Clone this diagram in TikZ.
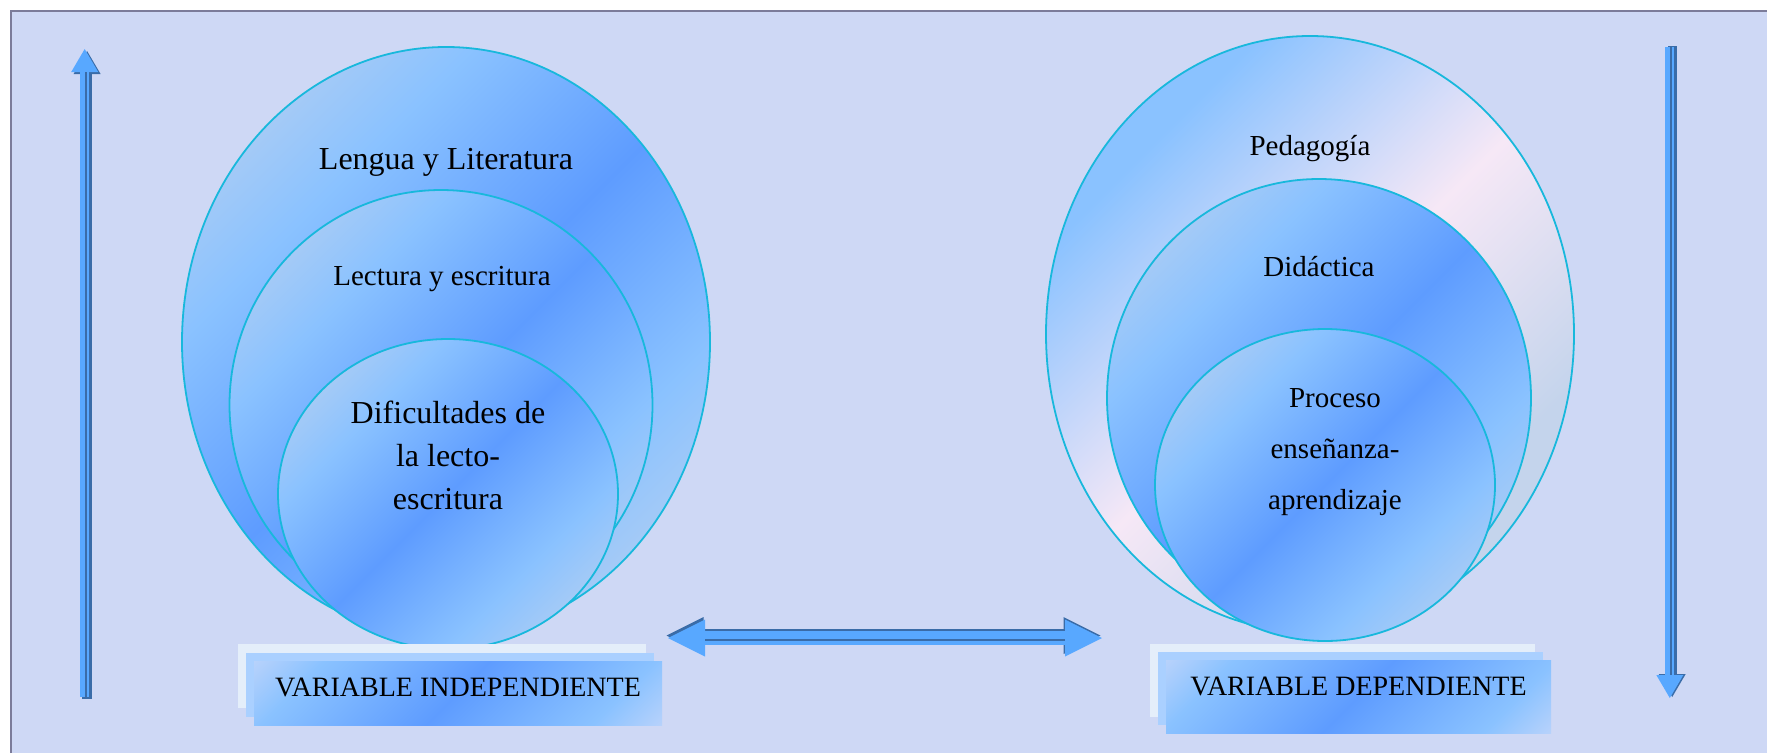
\documentclass[tikz,border=0pt]{standalone}
\usepackage{fontspec}
\setmainfont{Liberation Serif}
\usetikzlibrary{positioning, arrows.meta, shapes.geometric}

\definecolor{paper}{RGB}{206,216,245}
\definecolor{frameline}{RGB}{124,124,154}
\definecolor{rimcyan}{RGB}{24,184,220}
\definecolor{greyblue}{RGB}{196,212,236}
\definecolor{skyblue}{RGB}{138,194,255}
\definecolor{deepblue}{RGB}{94,156,255}
\definecolor{blush}{RGB}{246,232,246}
\definecolor{arrowlight}{RGB}{88,168,255}
\definecolor{arrowdark}{RGB}{58,108,168}
\definecolor{boxblue}{RGB}{170,208,255}
\definecolor{boxpale}{RGB}{228,238,250}

\pgfdeclarehorizontalshading{lensblue}{100bp}{color(0bp)=(greyblue); color(15bp)=(greyblue); color(33bp)=(skyblue); color(50bp)=(deepblue); color(67bp)=(skyblue); color(85bp)=(greyblue); color(100bp)=(greyblue)}
\pgfdeclarehorizontalshading{lenspink}{100bp}{color(0bp)=(skyblue); color(28bp)=(skyblue); color(50bp)=(blush); color(70bp)=(greyblue); color(100bp)=(greyblue)}
\pgfdeclarehorizontalshading{boxband}{100bp}{color(0bp)=(blush); color(25bp)=(skyblue); color(50bp)=(deepblue); color(75bp)=(skyblue); color(100bp)=(blush)}

\tikzset{
    lens/.style={ellipse, draw=rimcyan, line width=1.8pt, inner sep=0pt, shading=lensblue, shading angle=-45},
    lenspale/.style={lens, shading=lenspink, shading angle=-45},
    bigtext/.style={font=\fontsize{32}{43}\selectfont, align=center},
    midtext/.style={font=\fontsize{29}{51}\selectfont, align=center},
    tagbox/.style={rectangle, inner sep=0pt, font=\fontsize{28}{34}\selectfont},
    tagmain/.style={tagbox, shading=boxband, shading angle=-45},
    pointer/.style={line width=9.3pt, -{Triangle[width=27pt, length=23pt, line width=0pt]}},
    link/.style={line width=13.7pt, {Triangle[width=37pt, length=37pt, line width=0pt]}-{Triangle[width=37pt, length=37pt, line width=0pt]}}
}

\begin{document}
\begin{tikzpicture}[x=1pt, y=-1pt]
    \useasboundingbox (0,0) rectangle (1767,753);
    \fill[white] (0,0) rectangle (1767,753);
    \fill[paper] (11,11) rectangle (1767,753);
    \draw[frameline, line width=2pt] (11,753) -- (11,11) -- (1767,11);

    \node[lens, minimum width=528pt, minimum height=590pt] (lenguaLit) at (446,342) {};
    \node[lens, minimum width=423pt, minimum height=430pt] (lectEsc) at (441,405) {};
    \node[lens, minimum width=340pt, minimum height=310pt] (dificult) at (448,494) {};
    \node[bigtext] (tLengua) at (446,162) {Lengua y Literatura};
    \node[midtext] (tLectura) at (442,279) {Lectura y escritura};
    \node[bigtext] (tDificult) at (448,455) {Dificultades de\\la lecto-\\escritura};

    \node[lenspale, minimum width=528pt, minimum height=596pt] (pedagog) at (1310,334) {};
    \node[lens, minimum width=424pt, minimum height=438pt] (didact) at (1319,398) {};
    \node[lens, minimum width=340pt, minimum height=312pt] (procEA) at (1325,485) {};
    \node[midtext] (tPedagog) at (1310,149) {Pedagogía};
    \node[midtext] (tDidact) at (1319,267) {Didáctica};
    \node[midtext] (tProceso) at (1335,452) {Proceso\\enseñanza-\\aprendizaje};

    \coordinate (indC) at (458,693);
    \coordinate (depC) at (1358.5,696.5);
    \node[tagbox, fill=boxpale, minimum width=408pt, minimum height=64pt] (indPale) at ([shift={(-16,-17)}]indC) {};
    \node[tagbox, fill=boxblue, minimum width=408pt, minimum height=64pt] (indBlue) at ([shift={(-8,-8.5)}]indC) {};
    \node[tagmain, minimum width=408pt, minimum height=64pt, text depth=12pt] (varInd) at (indC) {VARIABLE INDEPENDIENTE};
    \node[tagbox, fill=boxpale, minimum width=385pt, minimum height=73pt] (depPale) at ([shift={(-16,-16)}]depC) {};
    \node[tagbox, fill=boxblue, minimum width=385pt, minimum height=73pt] (depBlue) at ([shift={(-8,-8)}]depC) {};
    \node[tagmain, minimum width=385pt, minimum height=73pt, text depth=21pt] (varDep) at (depC) {VARIABLE DEPENDIENTE};

    \coordinate (riseFoot) at (84.7,697);
    \coordinate (riseTip) at (84.7,49);
    \draw[pointer, arrowdark] ([shift={(2.4,2)}]riseFoot) -- ([shift={(2.4,2)}]riseTip);
    \draw[pointer, arrowlight] (riseFoot) -- (riseTip);
    \draw[arrowdark, line width=2.3pt] ([shift={(1.4,0)}]riseFoot) -- ([shift={(1.4,23)}]riseTip);

    \coordinate (fallTop) at (1669.8,47);
    \coordinate (fallTip) at (1669.8,698);
    \draw[pointer, arrowdark] ([shift={(2.4,-1)}]fallTop) -- ([shift={(2.4,-1)}]fallTip);
    \draw[pointer, arrowlight] (fallTop) -- (fallTip);
    \draw[arrowdark, line width=2.3pt] ([shift={(1.4,0)}]fallTop) -- ([shift={(1.4,-23)}]fallTip);

    \coordinate (linkW) at (668,638);
    \coordinate (linkE) at (1102,638);
    \draw[link, arrowdark] ([shift={(-1.5,-2.5)}]linkW) -- ([shift={(-1.5,-2.5)}]linkE);
    \draw[link, arrowlight] (linkW) -- (linkE);
    \draw[arrowdark, line width=2.3pt] ([shift={(37,2.3)}]linkW) -- ([shift={(-37,2.3)}]linkE);
\end{tikzpicture}
\end{document}
